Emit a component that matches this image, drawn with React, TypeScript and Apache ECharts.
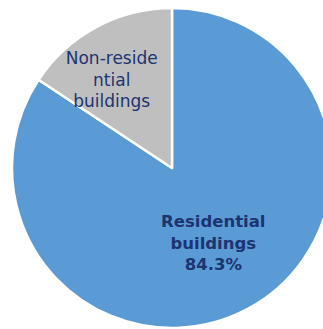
import React, { useEffect, useRef } from "react";
import * as echarts from "echarts";

const categories = ["Residential buildings", "Non-residential buildings"];
const shares = [84.3, 15.7];
const labels = ["Residential\nbuildings\n84.3%", "Non-reside\nntial\nbuildings"];

export default function App() {
  const ref = useRef<HTMLDivElement>(null);
  useEffect(() => {
    if (!ref.current) return;
    const chart = echarts.init(ref.current, undefined, { renderer: "svg" });
    chart.setOption({
      animation: false,
      backgroundColor: "#ffffff",
      series: [
        {
          type: "pie",
          center: [172, 168],
          radius: [0, 160],
          startAngle: 90,
          clockwise: true,
          silent: true,
          itemStyle: { borderColor: "#ffffff", borderWidth: 2.5 },
          label: {
            position: "inside",
            fontFamily: "DejaVu Sans",
            fontSize: 16.5,
            lineHeight: 21.5,
            color: "#1c3470",
            align: "center",
          },
          labelLayout: (params: any) =>
            params.dataIndex === 0 ? { dx: 2, dy: 2 } : { dx: -21, dy: -15 },
          data: categories.map((name, i) => ({
            name,
            value: shares[i],
            itemStyle: { color: i === 0 ? "#5b9bd5" : "#bfbfbf" },
            label:
              i === 0
                ? { formatter: labels[i], fontWeight: "bold" }
                : { formatter: labels[i], fontWeight: "normal", fontSize: 17 },
          })),
        },
      ],
    });
    return () => chart.dispose();
  }, []);
  return (
    <div
      ref={ref}
      style={{ position: "fixed", left: 0, top: 0, width: 323, height: 329 }}
    />
  );
}
